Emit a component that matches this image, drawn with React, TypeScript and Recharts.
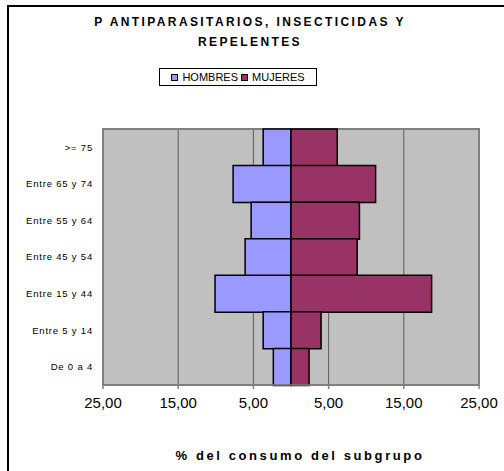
import { BarChart, Bar, XAxis, YAxis, CartesianGrid, ReferenceArea } from 'recharts';

const FONT = '"Liberation Sans", Arial, sans-serif';
const HOMBRES_BLUE = '#9999FF';
const MUJERES_PLUM = '#993366';

const ageGroups = ['>= 75', 'Entre 65 y 74', 'Entre 55 y 64', 'Entre 45 y 54', 'Entre 15 y 44', 'Entre 5 y 14', 'De 0 a 4'];
const hombres = [3.7, 7.7, 5.3, 6.1, 10.1, 3.7, 2.35];
const mujeres = [6.15, 11.25, 9.1, 8.8, 18.7, 4.0, 2.4];
const xTicks = [-25, -15, -5, 5, 15, 25];

const chartData = ageGroups.map((group, i) => ({
  group,
  hombres: -hombres[i],
  mujeres: mujeres[i],
}));

const formatPct = (v: number) => Math.abs(v).toFixed(2).replace('.', ',');

function LegendSwatch({ color }: { color: string }) {
  return (
    <span
      style={{
        display: 'inline-block',
        width: 5,
        height: 5,
        background: color,
        border: '1.5px solid #000',
        marginRight: 4,
        verticalAlign: 'middle',
        position: 'relative',
        top: -1,
      }}
    />
  );
}

export default function App() {
  return (
    <div style={{ position: 'absolute', left: 0, top: 0, width: 504, height: 471, background: '#fff', overflow: 'hidden', fontFamily: FONT }}>
      {/* outer frame, only left and top edges visible */}
      <div style={{ position: 'absolute', left: 7, top: 5, width: 510, height: 480, borderLeft: '2px solid #000', borderTop: '2px solid #000' }} />

      <div style={{ position: 'absolute', left: 0, width: 500, top: 12, textAlign: 'center', fontWeight: 700, fontSize: 12, letterSpacing: 2.4, lineHeight: '20px', color: '#000' }}>
        P ANTIPARASITARIOS, INSECTICIDAS Y
        <br />
        REPELENTES
      </div>

      <div
        style={{
          position: 'absolute',
          left: 159,
          top: 68,
          width: 158,
          height: 18,
          border: '1px solid #000',
          fontSize: 11,
          lineHeight: '17px',
          textAlign: 'center',
          color: '#000',
          boxSizing: 'border-box',
        }}
      >
        <LegendSwatch color={HOMBRES_BLUE} />
        HOMBRES{' '}
        <LegendSwatch color={MUJERES_PLUM} />
        MUJERES
      </div>

      <div style={{ position: 'absolute', left: 0, top: 0 }}>
        <BarChart
          width={504}
          height={471}
          data={chartData}
          layout="vertical"
          stackOffset="sign"
          barCategoryGap={0}
          barGap={0}
          margin={{ top: 129, right: 25, left: 0, bottom: 56 }}
        >
          <CartesianGrid horizontal={false} fill="#C0C0C0" stroke="#5a5a5a" strokeWidth={1} fillOpacity={1} />
          <XAxis
            type="number"
            domain={[-25, 25]}
            ticks={xTicks}
            tickFormatter={formatPct}
            height={30}
            stroke="#808080"
            strokeWidth={1.5}
            tickSize={4}
            tickMargin={8}
            tick={{ fontSize: 15, fill: '#000', fontFamily: FONT }}
          />
          <YAxis
            type="category"
            dataKey="group"
            width={103}
            axisLine={false}
            tickLine={false}
            tickSize={0}
            tickMargin={10}
            tick={{ fontSize: 9.5, fill: '#000', fontFamily: FONT, letterSpacing: 0.8 }}
          />
          <ReferenceArea x1={-25} x2={25} fill="none" stroke="#808080" strokeWidth={2} ifOverflow="visible" />
          <Bar dataKey="hombres" stackId="a" fill={HOMBRES_BLUE} stroke="#000" strokeWidth={1.5} isAnimationActive={false} />
          <Bar dataKey="mujeres" stackId="a" fill={MUJERES_PLUM} stroke="#000" strokeWidth={1.5} isAnimationActive={false} />
        </BarChart>
      </div>

      <div style={{ position: 'absolute', left: 140, width: 320, top: 448, textAlign: 'center', fontWeight: 700, fontSize: 13, letterSpacing: 2.6, color: '#000' }}>
        % del consumo del subgrupo
      </div>
    </div>
  );
}
